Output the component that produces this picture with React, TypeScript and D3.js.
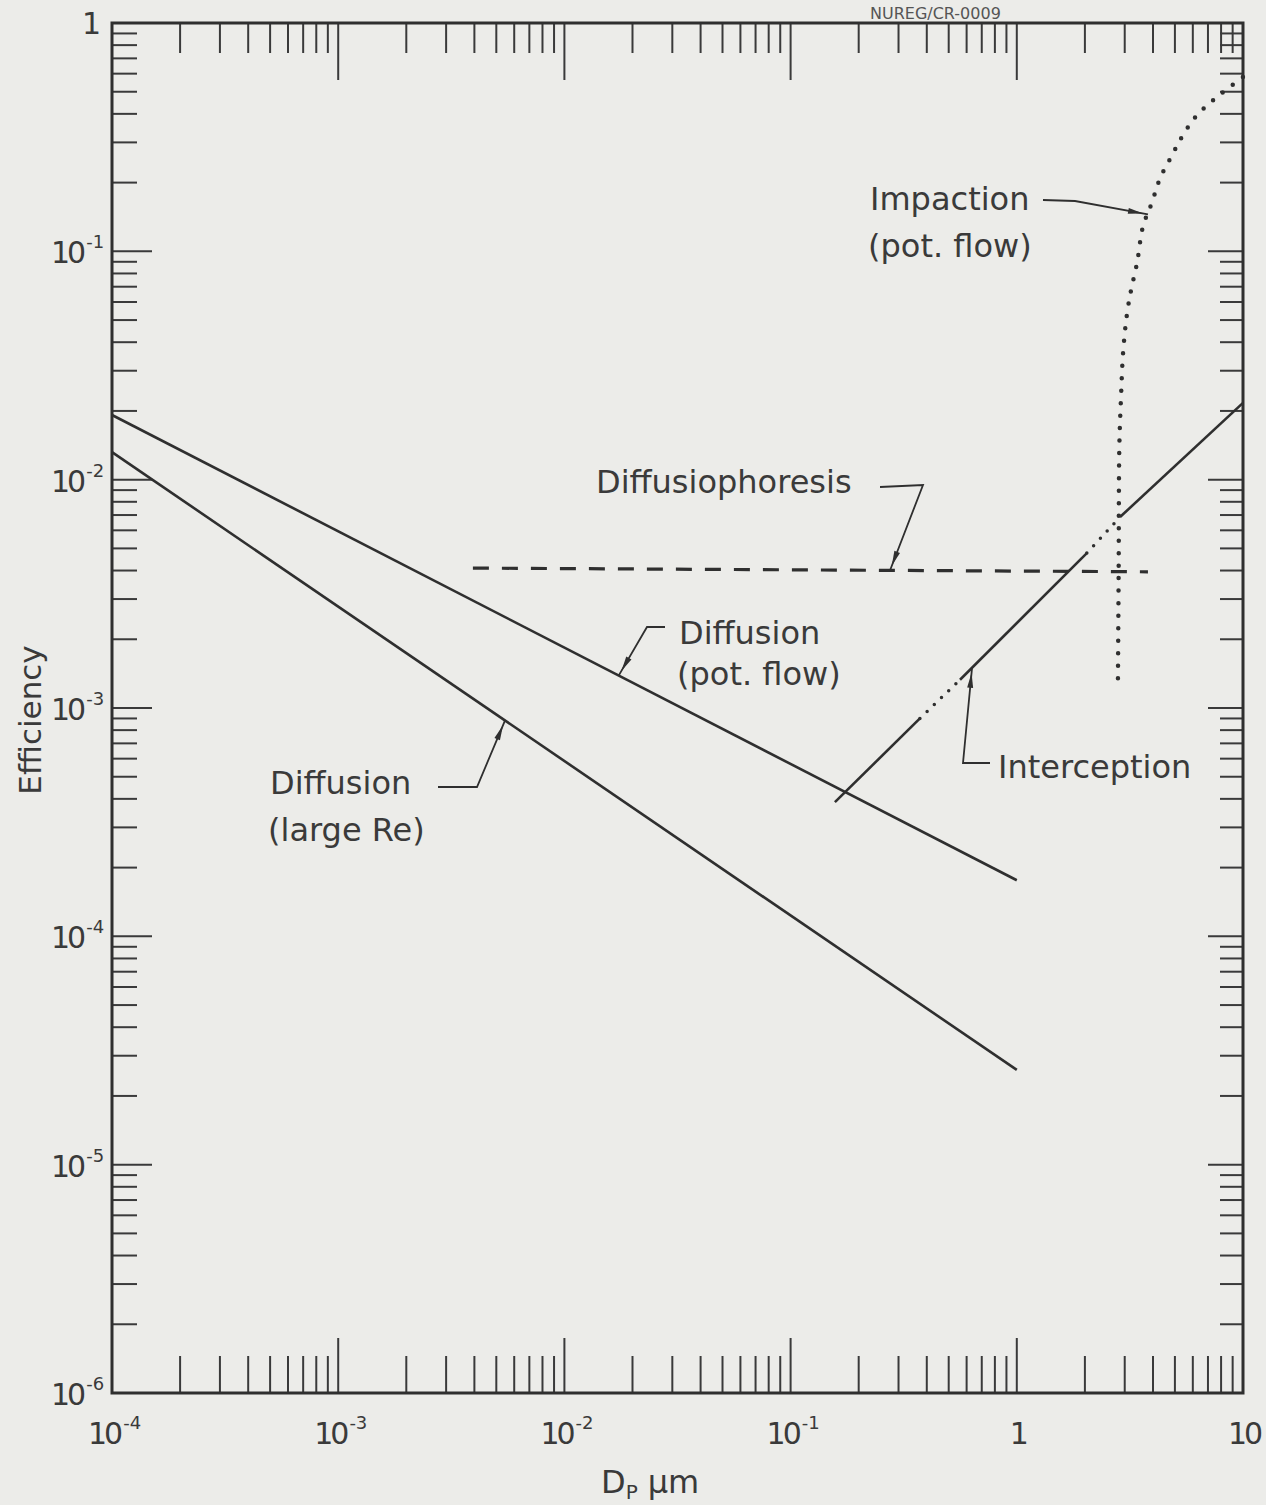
import React from 'react';
import * as d3 from 'd3';

const width = 1266;
const height = 1505;
const plot = { left: 112, right: 1243, top: 23, bottom: 1393 };

// axes
const xDomain = [1e-4, 10];
const yDomain = [1e-6, 1];
const xLabelValues = [1e-4, 1e-3, 1e-2, 1e-1, 1, 10];
const xLabelBases = ['10', '10', '10', '10', '1', '10'];
const xLabelExps = ['-4', '-3', '-2', '-1', '', ''];
const yLabelValues = [1, 1e-1, 1e-2, 1e-3, 1e-4, 1e-5, 1e-6];
const yLabelBases = ['1', '10', '10', '10', '10', '10', '10'];
const yLabelExps = ['', '-1', '-2', '-3', '-4', '-5', '-6'];

// curves: [Dp (um), efficiency]
const diffusionPotFlow = [[1e-4, 0.0192], [1, 1.76e-4]];
const diffusionLargeRe = [[1e-4, 0.0132], [1, 2.6e-5]];
const diffusiophoresis = [[3.94e-3, 4.1e-3], [3.8, 3.95e-3]];
const interception = [[0.157, 3.87e-4], [0.373, 9.0e-4], [0.561, 1.33e-3], [2.04, 4.77e-3], [2.86, 6.86e-3], [10, 0.0217]];
const interceptionStyle = ['solid', 'dotted', 'solid', 'dotted', 'solid'];
const impaction = [
  [2.8, 1.35e-3], [2.82, 3.98e-3], [2.84, 0.014], [2.89, 0.0232], [2.95, 0.0359], [3.07, 0.0532],
  [3.2, 0.0677], [3.4, 0.0889], [3.61, 0.128], [3.96, 0.164], [4.3, 0.209], [4.86, 0.264],
  [5.43, 0.323], [6.26, 0.395], [7.67, 0.474], [10, 0.58],
];

// annotations: text lines, leader (pixels) and the point on the curve it points to (data)
const notes = [
  { lines: ['Impaction', '(pot. flow)'], x: 870, y: 210, dy: 47, leader: [[1043, 200], [1075, 201]], tip: [3.8, 0.145] },
  { lines: ['Diffusiophoresis'], x: 596, y: 493, dy: 0, leader: [[880, 487], [923, 485]], tip: [0.275, 4.0e-3] },
  { lines: ['Diffusion', '(pot. flow)'], x: 679, y: 644, dy: 41, leader: [[665, 627], [647, 627]], tip: [0.0174, 1.39e-3] },
  { lines: ['Diffusion', '(large Re)'], x: 270, y: 794, dy: 47, leader: [[438, 787], [477, 787]], tip: [0.00546, 8.8e-4] },
  { lines: ['Interception'], x: 998, y: 778, dy: 0, leader: [[990, 763], [963, 763]], tip: [0.634, 1.5e-3] },
];

const ink = '#2f2f2f';
const textInk = '#3a3a3a';
const font = 'DejaVu Sans, sans-serif';

function arrowHead(p0: number[], tip: number[], back = 5, len = 15, half = 3) {
  const dx = tip[0] - p0[0];
  const dy = tip[1] - p0[1];
  const L = Math.hypot(dx, dy);
  const ux = dx / L;
  const uy = dy / L;
  const hx = tip[0] - ux * back;
  const hy = tip[1] - uy * back;
  const bx = hx - ux * len;
  const by = hy - uy * len;
  return `M${hx},${hy}L${bx - uy * half},${by + ux * half}L${bx + uy * half},${by - ux * half}Z`;
}

// "10" with a raised exponent
function PowerLabel({ x0, y0, base, exp }: { x0: number; y0: number; base: string; exp: string }) {
  return (
    <text x={x0} y={y0} fontFamily={font} fill={textInk} fontSize={30} letterSpacing={-3}>
      {base}
      <tspan dx={3} dy={-15} fontSize={18} letterSpacing={0}>{exp}</tspan>
    </text>
  );
}

export default function App() {
  const x = d3.scaleLog().domain(xDomain).range([plot.left, plot.right]);
  const y = d3.scaleLog().domain(yDomain).range([plot.bottom, plot.top]);
  const line = d3.line<number[]>().x(d => x(d[0])).y(d => y(d[1]));
  const smooth = d3
    .line<number[]>()
    .x(d => x(d[0]))
    .y(d => y(d[1]))
    .curve(d3.curveCatmullRom.alpha(0.5));

  const isMajor = (t: number) => Math.abs(Math.log10(t) - Math.round(Math.log10(t))) < 1e-6;
  const xTicks = x.ticks();
  const yTicks = y.ticks();

  const solid = { fill: 'none', stroke: ink, strokeWidth: 2.6 };
  const dotted = { fill: 'none', stroke: ink, strokeWidth: 4.5, strokeLinecap: 'round' as const };

  return (
    <svg
      width={width}
      height={height}
      style={{ position: 'absolute', left: 0, top: 0, background: '#ecece9' }}
    >
      <rect x={0} y={0} width={width} height={height} fill="#ecece9" />

      {/* document number at the top */}
      <text x={870} y={19} fontFamily={font} fontSize={16} fill="#555">NUREG/CR-0009</text>

      {/* ticks */}
      <g stroke="#3a3a3a" strokeWidth={2}>
        {xTicks.map((t, i) => {
          const px = x(t);
          const m = isMajor(t);
          return (
            <g key={'xt' + i}>
              <line x1={px} x2={px} y1={plot.bottom} y2={plot.bottom - (m ? 55 : 37)} />
              <line x1={px} x2={px} y1={plot.top} y2={plot.top + (m ? 57 : 30)} />
            </g>
          );
        })}
        {yTicks.map((t, i) => {
          const py = y(t);
          const m = isMajor(t);
          return (
            <g key={'yt' + i}>
              <line x1={plot.left} x2={plot.left + (m ? 40 : 25)} y1={py} y2={py} />
              <line x1={plot.right} x2={plot.right - (m ? 35 : 23)} y1={py} y2={py} />
            </g>
          );
        })}
      </g>

      {/* frame */}
      <rect
        x={plot.left}
        y={plot.top}
        width={plot.right - plot.left}
        height={plot.bottom - plot.top}
        fill="none"
        stroke={ink}
        strokeWidth={3}
      />

      {/* x tick labels */}
      {xLabelValues.map((v, i) => {
        const px = x(v);
        if (xLabelExps[i] === '') {
          return (
            <text key={'xl' + i} x={px + 1} y={1444} fontFamily={font} fill={textInk} fontSize={30}
              textAnchor="middle" letterSpacing={-3}>
              {xLabelBases[i]}
            </text>
          );
        }
        return <PowerLabel key={'xl' + i} x0={px - 24} y0={1444} base={xLabelBases[i]} exp={xLabelExps[i]} />;
      })}

      {/* y tick labels */}
      {yLabelValues.map((v, i) => {
        const py = y(v);
        if (yLabelExps[i] === '') {
          return (
            <text key={'yl' + i} x={101} y={py + 11} fontFamily={font} fill={textInk} fontSize={30} textAnchor="end">
              {yLabelBases[i]}
            </text>
          );
        }
        return <PowerLabel key={'yl' + i} x0={51} y0={py + 12} base={yLabelBases[i]} exp={yLabelExps[i]} />;
      })}

      {/* axis titles */}
      <text
        transform="translate(41,720) rotate(-90)"
        textAnchor="middle"
        fontFamily={font}
        fontSize={31}
        fill={textInk}
      >
        Efficiency
      </text>
      <text x={601} y={1493} fontFamily={font} fontSize={32} fill={textInk}>
        D
        <tspan fontSize={20} dy={6}>P</tspan>
        <tspan dy={-6} dx={10}>μm</tspan>
      </text>

      {/* curves */}
      <path d={line(diffusionPotFlow) || ''} {...solid} />
      <path d={line(diffusionLargeRe) || ''} {...solid} />
      <path d={line(diffusiophoresis) || ''} {...solid} strokeWidth={3.2} strokeDasharray="16 13" />
      {interceptionStyle.map((s, i) => (
        <path
          key={'ic' + i}
          d={line([interception[i], interception[i + 1]]) || ''}
          {...(s === 'solid' ? solid : { ...dotted, strokeWidth: 3.5 })}
          strokeDasharray={s === 'solid' ? undefined : '0 10'}
        />
      ))}
      <path d={smooth(impaction) || ''} {...dotted} strokeDasharray="0 12.5" />

      {/* annotations */}
      {notes.map((n, i) => {
        const tip = [x(n.tip[0]), y(n.tip[1])];
        const pts = [...n.leader, tip];
        const last = pts[pts.length - 2];
        return (
          <g key={'n' + i}>
            {n.lines.map((t, j) => (
              <text
                key={j}
                x={n.x - (j > 0 ? 2 : 0)}
                y={n.y + j * n.dy}
                fontFamily={font}
                fontSize={32}
                fill={textInk}
              >
                {t}
              </text>
            ))}
            <path d={d3.line()(pts as [number, number][]) || ''} fill="none" stroke={ink} strokeWidth={1.8} />
            <path d={arrowHead(last, tip)} fill={ink} />
          </g>
        );
      })}
    </svg>
  );
}
